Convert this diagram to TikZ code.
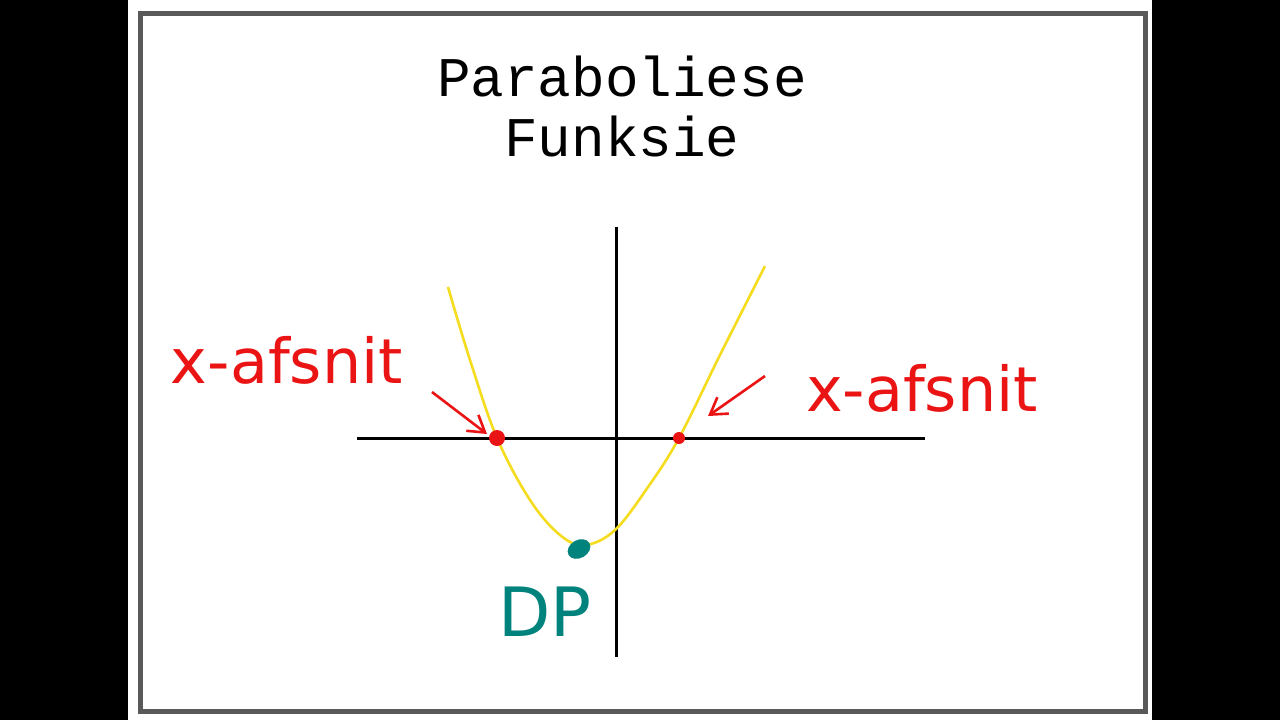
\documentclass[tikz,border=0pt]{standalone}
\usepackage{fontspec}
\newfontfamily\mono{Liberation Mono}
\newfontfamily\hand{DejaVu Sans}
\definecolor{redh}{RGB}{235,20,20}
\definecolor{tealh}{RGB}{0,130,125}
\definecolor{yel}{RGB}{245,220,30}
\tikzset{axis/.style={line width=1.5pt,black},
 lbl/.style={text=redh,font=\hand\fontsize{31}{34}\selectfont,inner sep=0},
 arr/.style={redh,line width=1.3pt,-{Straight Barb[length=8pt,width=10pt]}}}
\usetikzlibrary{arrows.meta}
\begin{document}
\begin{tikzpicture}[x=0.5pt,y=-0.5pt]
\useasboundingbox (0,0) rectangle (1280,720);
\fill[black] (0,0) rectangle (1280,720);
\fill[white] (128,0) rectangle (1152,720);
\draw[gray!70!black,line width=2.5pt] (140,13) rectangle (1145,711);
\node[font=\mono\fontsize{28}{30}\selectfont] (t1) at (622,76) {Paraboliese};
\node[font=\mono\fontsize{28}{30}\selectfont] (t2) at (622,136) {Funksie};
\coordinate (xl) at (357,438); \coordinate (xr) at (925,438);
\coordinate (yt) at (616,227); \coordinate (yb) at (616,657);
\draw[axis] (xl) -- (xr);
\draw[axis] (yt) -- (yb);
\draw[yel,line width=1.3pt] plot[smooth,tension=0.6] coordinates {(448,287) (470,360) (497,438) (530,500) (560,535) (585,545) (615,530) (648,487) (679,438) (720,355) (765,266)};
\fill[redh] (497,438) circle (8);
\fill[redh] (679,438) circle (6);
\fill[tealh,rotate around={30:(579,549)}] (579,549) ellipse (12 and 9);
\node[text=tealh,font=\hand\fontsize{34}{38}\selectfont] (dp) at (545,612) {DP};
\node[lbl] (l1) at (287,360) {x-afsnit};
\node[lbl] (l2) at (922,388) {x-afsnit};
\coordinate (a1) at (432,392); \coordinate (a2) at (765,376);
\draw[arr] (a1) -- (487,434);
\draw[arr] (a2) -- (708,416);
\end{tikzpicture}
\end{document}
